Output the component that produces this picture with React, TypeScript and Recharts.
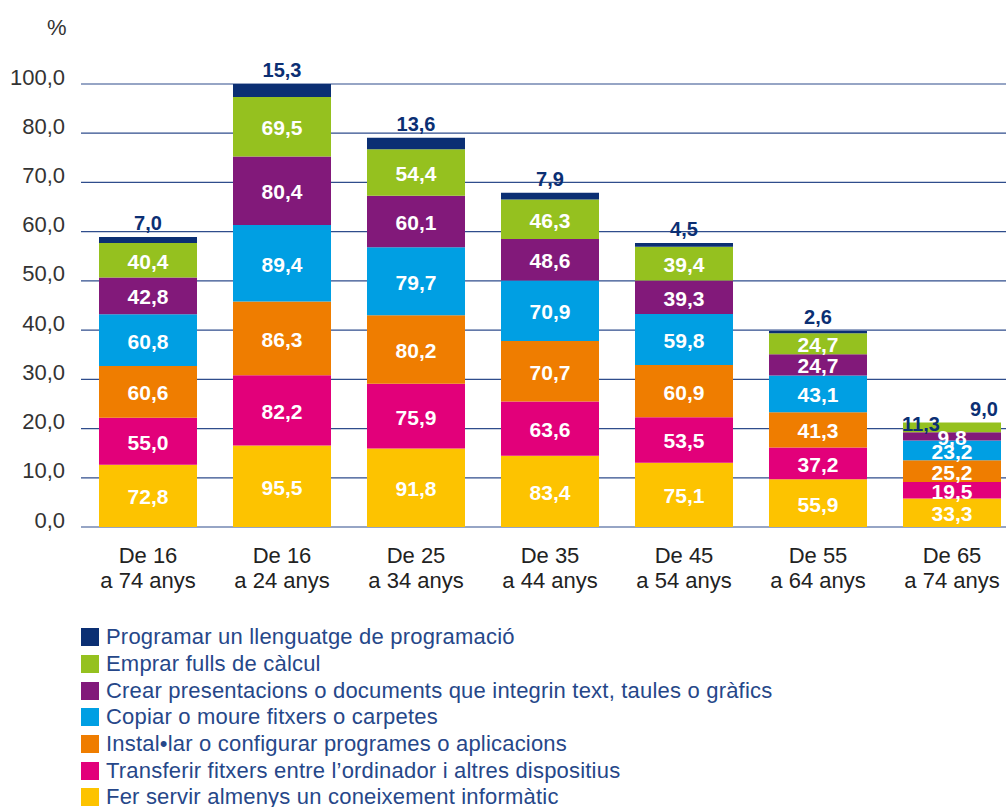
import { BarChart, Bar, XAxis, YAxis, CartesianGrid, LabelList, Cell } from 'recharts';

// categories: two lines each
const catTop = ['De 16', 'De 16', 'De 25', 'De 35', 'De 45', 'De 55', 'De 65'];
const catBottom = ['a 74 anys', 'a 24 anys', 'a 34 anys', 'a 44 anys', 'a 54 anys', 'a 64 anys', 'a 74 anys'];

// series, bottom of the stack first
const ferServir = [72.8, 95.5, 91.8, 83.4, 75.1, 55.9, 33.3];
const transferir = [55.0, 82.2, 75.9, 63.6, 53.5, 37.2, 19.5];
const installar = [60.6, 86.3, 80.2, 70.7, 60.9, 41.3, 25.2];
const copiar = [60.8, 89.4, 79.7, 70.9, 59.8, 43.1, 23.2];
const crear = [42.8, 80.4, 60.1, 48.6, 39.3, 24.7, 9.8];
const emprar = [40.4, 69.5, 54.4, 46.3, 39.4, 24.7, 11.3];
const programar = [7.0, 15.3, 13.6, 7.9, 4.5, 2.6, 9.0];

const yTickLabels = ['0,0', '10,0', '20,0', '30,0', '40,0', '50,0', '60,0', '70,0', '80,0', '100,0'];

const FONT = '"Liberation Sans", Arial, sans-serif';
const NAVY = '#0b2f73';

const series = [
  { key: 's0', name: 'Fer servir almenys un coneixement informàtic', color: '#fdc300', values: ferServir },
  { key: 's1', name: 'Transferir fitxers entre l’ordinador i altres dispositius', color: '#e2007a', values: transferir },
  { key: 's2', name: 'Instal•lar o configurar programes o aplicacions', color: '#ef7d00', values: installar },
  { key: 's3', name: 'Copiar o moure fitxers o carpetes', color: '#009fe3', values: copiar },
  { key: 's4', name: 'Crear presentacions o documents que integrin text, taules o gràfics', color: '#82197a', values: crear },
  { key: 's5', name: 'Emprar fulls de càlcul', color: '#95c11f', values: emprar },
  { key: 's6', name: 'Programar un llenguatge de programació', color: NAVY, values: programar },
];

const data = catTop.map((c, i) => {
  const row: Record<string, any> = { cat: `${c} ${catBottom[i]}`, idx: i };
  series.forEach((s) => {
    row[s.key] = s.values[i];
  });
  return row;
});

const totals = data.map((row) => series.reduce((sum, s) => sum + row[s.key], 0));
const yMax = Math.max(...totals);
const yTicks = yTickLabels.map((_, i) => (i * yMax) / (yTickLabels.length - 1));

const lastIdx = catTop.length - 1;

const fmt = (v: number) => v.toFixed(1).replace('.', ',');

function YTick(props: any) {
  const { y, index } = props;
  return (
    <text x={65} y={y - 7} textAnchor="end" dominantBaseline="central" fontSize={22} fill="#333" fontFamily={FONT}>
      {yTickLabels[index]}
    </text>
  );
}

function XTick(props: any) {
  const { x, y, index } = props;
  return (
    <g>
      <text x={x} y={y + 36} textAnchor="middle" fontSize={22} fill="#222" fontFamily={FONT}>
        {catTop[index]}
      </text>
      <text x={x} y={y + 61} textAnchor="middle" fontSize={22} fill="#222" fontFamily={FONT}>
        {catBottom[index]}
      </text>
    </g>
  );
}

// white value inside each segment
function innerLabel(props: any) {
  const { x, y, width, height, value } = props;
  return (
    <text
      x={x + width / 2}
      y={y + height / 2 + 1}
      textAnchor="middle"
      dominantBaseline="central"
      fill="#fff"
      fontWeight={700}
      fontSize={21}
      fontFamily={FONT}
    >
      {fmt(value)}
    </text>
  );
}

// green segment: last bar too thin, label goes outside in navy
function greenLabel(props: any) {
  const { x, y, width, index } = props;
  if (index === lastIdx) {
    return (
      <text
        x={x + width / 2 - 31}
        y={y + 1}
        textAnchor="middle"
        dominantBaseline="central"
        fill={NAVY}
        fontWeight={700}
        fontSize={20}
        fontFamily={FONT}
      >
        {fmt(props.value)}
      </text>
    );
  }
  return innerLabel(props);
}

// navy values sit above the bar
function topLabel(props: any) {
  const { x, y, width, height, value, index } = props;
  const last = index === lastIdx;
  const top = last ? y + height : y;
  return (
    <text
      x={x + width / 2 + (last ? 32 : 0)}
      y={top - 14}
      textAnchor="middle"
      dominantBaseline="central"
      fill={NAVY}
      fontWeight={700}
      fontSize={20}
      fontFamily={FONT}
    >
      {fmt(value)}
    </text>
  );
}

export default function App() {
  return (
    <div
      style={{
        position: 'absolute',
        left: 0,
        top: 0,
        width: 1006,
        height: 807,
        overflow: 'hidden',
        background: '#fff',
        fontFamily: FONT,
      }}
    >
      <div style={{ position: 'absolute', left: 47, top: 15, fontSize: 22, color: '#333' }}>%</div>
      <BarChart
        width={1019}
        height={620}
        data={data}
        margin={{ top: 84, right: 0, left: 0, bottom: 0 }}
        barSize={98}
      >
        <CartesianGrid vertical={false} stroke="#2f4d8c" strokeWidth={1.2} />
        <XAxis dataKey="cat" axisLine={false} tickLine={false} tickSize={0} tickMargin={0} height={93} interval={0} tick={<XTick />} />
        <YAxis
          width={81}
          domain={[0, yMax]}
          ticks={yTicks}
          axisLine={false}
          tickLine={false}
          interval={0}
          tick={<YTick />}
        />
        {series.map((s) => (
          <Bar key={s.key} dataKey={s.key} stackId="a" fill={s.color} isAnimationActive={false}>
            {s.key === 's6' &&
              data.map((row) => (
                <Cell key={row.idx} fill={row.idx === lastIdx ? 'transparent' : s.color} />
              ))}
            <LabelList
              dataKey={s.key}
              content={s.key === 's6' ? topLabel : s.key === 's5' ? greenLabel : innerLabel}
            />
          </Bar>
        ))}
      </BarChart>
      <div style={{ position: 'absolute', left: 81, top: 624 }}>
        {[...series].reverse().map((s) => (
          <div key={s.key} style={{ display: 'flex', alignItems: 'center', height: 26.7 }}>
            <div style={{ width: 18, height: 18, background: s.color, marginRight: 7, flexShrink: 0 }} />
            <span
              style={{
                fontSize: 22,
                color: '#264789',
                whiteSpace: 'nowrap',
                lineHeight: '26px',
                letterSpacing: 0.2,
              }}
            >
              {s.name}
            </span>
          </div>
        ))}
      </div>
    </div>
  );
}
